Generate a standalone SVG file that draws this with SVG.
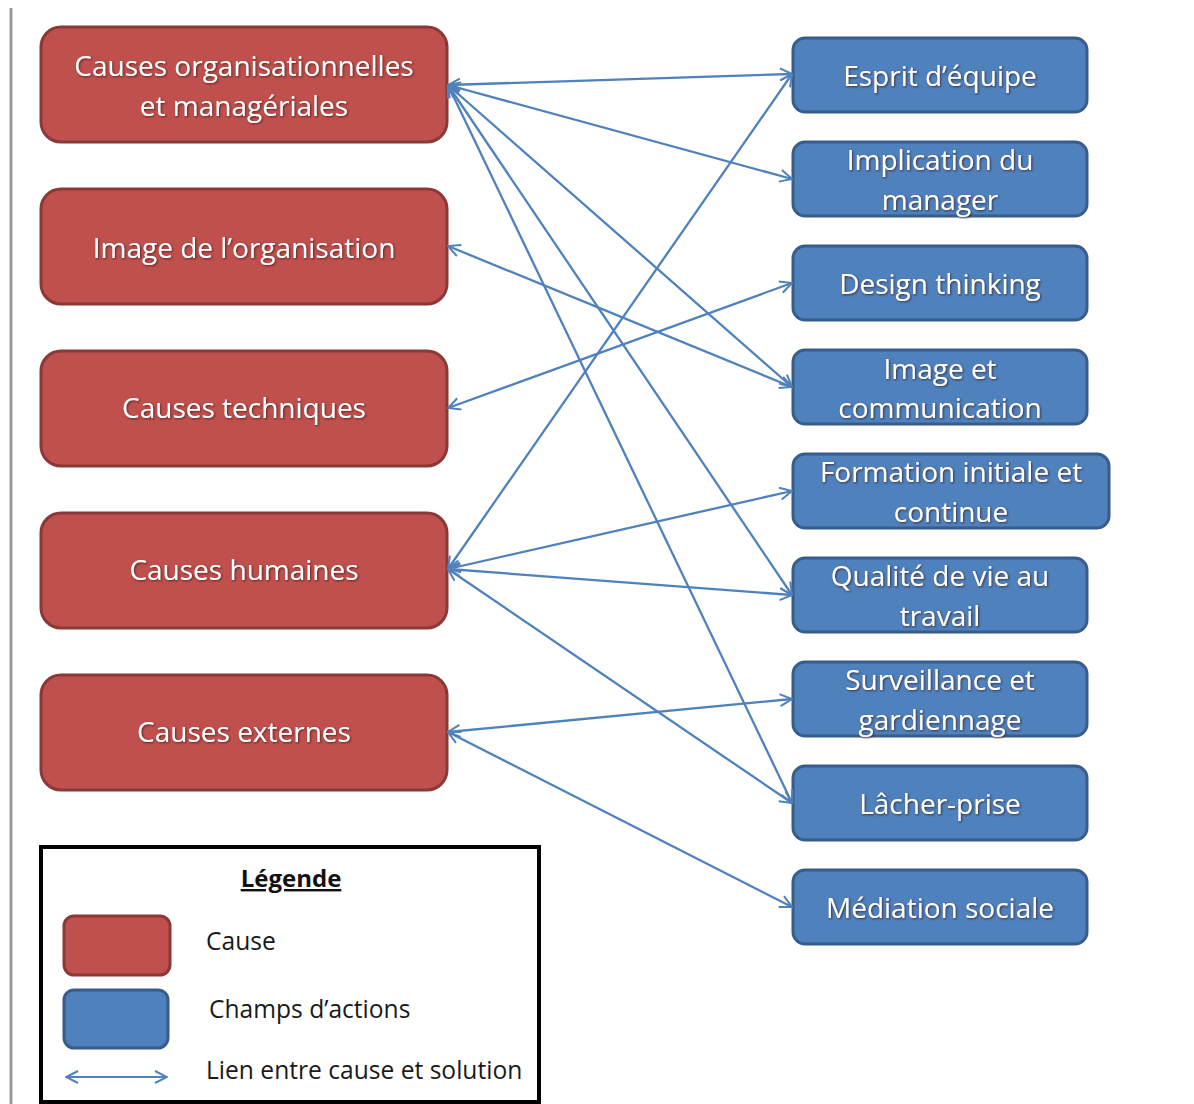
<svg xmlns="http://www.w3.org/2000/svg" width="1194" height="1104" viewBox="0 0 1194 1104">
<defs>
<marker id="ah" viewBox="0 0 14 14" refX="13" refY="7" markerWidth="14" markerHeight="14" markerUnits="userSpaceOnUse" orient="auto-start-reverse">
<path d="M1,1 L13,7 L1,13" fill="none" stroke="#4F81BD" stroke-width="2"/>
</marker>
<filter id="ts" x="-10%" y="-30%" width="120%" height="160%">
<feGaussianBlur in="SourceAlpha" stdDeviation="0.8"/>
<feOffset dx="0.6" dy="0.8" result="b"/>
<feFlood flood-color="#3a1a1a" flood-opacity="0.8"/>
<feComposite in2="b" operator="in"/>
<feMerge><feMergeNode/><feMergeNode in="SourceGraphic"/></feMerge>
</filter>
</defs>
<style>
.cause{fill:#C0504D;stroke:#8C3836;stroke-width:3}
.action{fill:#4F81BD;stroke:#385D8A;stroke-width:3}
.t{font-family:"Open Sans","Liberation Sans",sans-serif;font-size:28px;fill:#ffffff;text-anchor:middle;filter:url(#ts)}
.c line{stroke:#4F81BD;stroke-width:2.3;marker-start:url(#ah);marker-end:url(#ah)}
.lg{font-family:"Open Sans","Liberation Sans",sans-serif;font-size:24.6px;fill:#1a1a1a}
</style>
<rect width="1194" height="1104" fill="#ffffff"/>
<line x1="11" y1="8" x2="11" y2="1104" stroke="#9a9a9a" stroke-width="3"/>

<g id="cause1"><rect class="cause" x="41" y="27" width="406" height="115" rx="20"/><text class="t" x="244" y="76">Causes organisationnelles</text><text class="t" x="244" y="116">et managériales</text></g>
<g id="cause2"><rect class="cause" x="41" y="189" width="406" height="115" rx="20"/><text class="t" x="244" y="258">Image de l’organisation</text></g>
<g id="cause3"><rect class="cause" x="41" y="351" width="406" height="115" rx="20"/><text class="t" x="244" y="418">Causes techniques</text></g>
<g id="cause4"><rect class="cause" x="41" y="513" width="406" height="115" rx="20"/><text class="t" x="244" y="580">Causes humaines</text></g>
<g id="cause5"><rect class="cause" x="41" y="675" width="406" height="115" rx="20"/><text class="t" x="244" y="742">Causes externes</text></g>

<g id="a1"><rect class="action" x="793" y="38" width="294" height="74" rx="12"/><text class="t" x="940" y="86">Esprit d’équipe</text></g>
<g id="a2"><rect class="action" x="793" y="142" width="294" height="74" rx="12"/><text class="t" x="940" y="170">Implication du</text><text class="t" x="940" y="210">manager</text></g>
<g id="a3"><rect class="action" x="793" y="246" width="294" height="74" rx="12"/><text class="t" x="940" y="294">Design thinking</text></g>
<g id="a4"><rect class="action" x="793" y="350" width="294" height="74" rx="12"/><text class="t" x="940" y="379">Image et</text><text class="t" x="940" y="418">communication</text></g>
<g id="a5"><rect class="action" x="793" y="454" width="316" height="74" rx="12"/><text class="t" x="951" y="482">Formation initiale et</text><text class="t" x="951" y="522">continue</text></g>
<g id="a6"><rect class="action" x="793" y="558" width="294" height="74" rx="12"/><text class="t" x="940" y="586">Qualité de vie au</text><text class="t" x="940" y="626">travail</text></g>
<g id="a7"><rect class="action" x="793" y="662" width="294" height="74" rx="12"/><text class="t" x="940" y="690">Surveillance et</text><text class="t" x="940" y="730">gardiennage</text></g>
<g id="a8"><rect class="action" x="793" y="766" width="294" height="74" rx="12"/><text class="t" x="940" y="814">Lâcher-prise</text></g>
<g id="a9"><rect class="action" x="793" y="870" width="294" height="74" rx="12"/><text class="t" x="940" y="918">Médiation sociale</text></g>

<g id="connectors" class="c">
<line x1="448" y1="85" x2="792" y2="74"/>
<line x1="448" y1="85" x2="792" y2="179"/>
<line x1="448" y1="85" x2="792" y2="387"/>
<line x1="448" y1="85" x2="792" y2="595"/>
<line x1="448" y1="85" x2="792" y2="803"/>
<line x1="448" y1="246" x2="792" y2="387"/>
<line x1="448" y1="408" x2="792" y2="283"/>
<line x1="448" y1="569" x2="792" y2="74"/>
<line x1="448" y1="569" x2="792" y2="491"/>
<line x1="448" y1="569" x2="792" y2="595"/>
<line x1="448" y1="569" x2="792" y2="803"/>
<line x1="448" y1="732" x2="792" y2="699"/>
<line x1="448" y1="732" x2="792" y2="907"/>
</g>

<g id="legend">
<rect x="41" y="847" width="498" height="255" fill="#ffffff" stroke="#000000" stroke-width="4"/>
<text x="291" y="887" font-family="'Open Sans','Liberation Sans',sans-serif" font-size="24" font-weight="bold" fill="#111" text-anchor="middle" text-decoration="underline">Légende</text>
<rect class="cause" x="64" y="916" width="106" height="59" rx="10" stroke-width="2"/>
<rect class="action" x="64" y="990" width="104" height="58" rx="10" stroke-width="2"/>
<text class="lg" x="206" y="950">Cause</text>
<text class="lg" x="209" y="1018">Champs d’actions</text>
<text class="lg" x="206" y="1079">Lien entre cause et solution</text>
<line x1="66" y1="1077" x2="167" y2="1077" stroke="#4F81BD" stroke-width="2" marker-start="url(#ah)" marker-end="url(#ah)"/>
</g>
</svg>
